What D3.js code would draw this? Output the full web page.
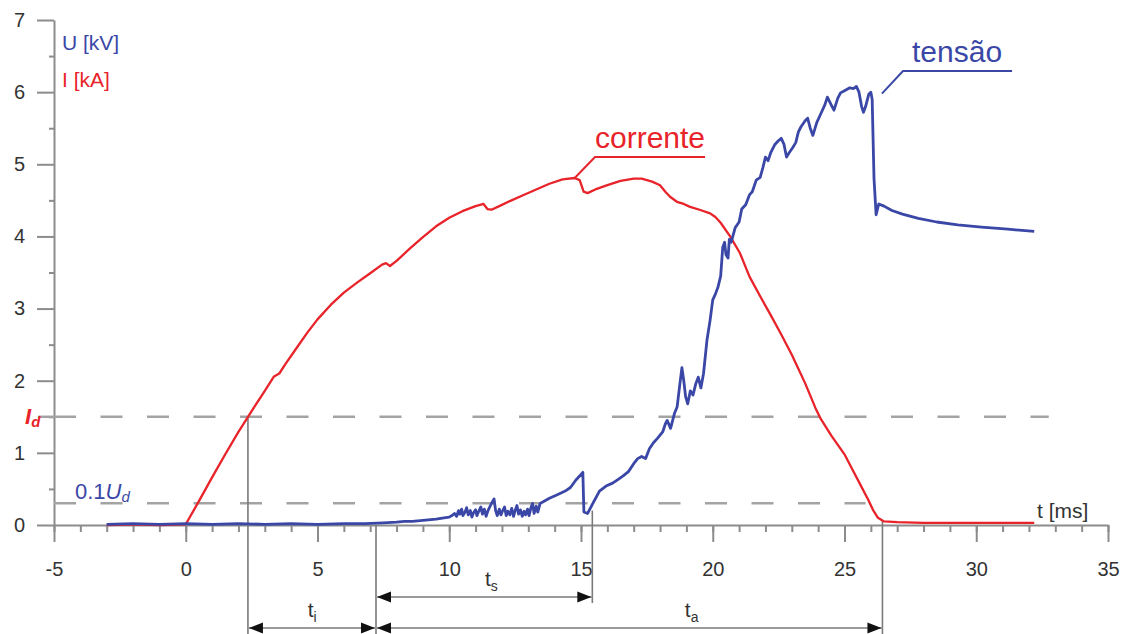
<!DOCTYPE html>
<html>
<head>
<meta charset="utf-8">
<script src="https://cdn.jsdelivr.net/npm/d3@7"></script>
<style>
  body { margin: 0; background: #fff; }
  svg { display: block; }
  text { font-family: "Liberation Sans", Arial, sans-serif; }
</style>
</head>
<body>
<svg id="chart" width="1130" height="634"></svg>
<script>
// ---- data ---------------------------------------------------------------
// time axis ticks [ms]
const xTicks = [-5, 0, 5, 10, 15, 20, 25, 30, 35];
const xMinorTicks = d3.range(-5, 36, 1);
// value axis ticks (kV / kA)
const yTicks = [0, 1, 2, 3, 4, 5, 6, 7];
const yMinorTicks = [0.5, 1.5, 2.5, 3.5, 4.5, 5.5, 6.5];

// arc current I [kA] versus t [ms]
const currentSamples = [
  [-3, 0.0], [-2, 0.01], [-1, 0.0], [0, 0.01], [0.5, 0.33], [1, 0.66], [1.5, 0.98],
  [2, 1.29], [2.5, 1.58], [3, 1.86], [3.35, 2.06], [3.55, 2.1], [3.8, 2.24], [4.2, 2.45],
  [4.6, 2.66], [5, 2.85], [5.5, 3.05], [6, 3.22], [6.5, 3.36], [7, 3.49], [7.45, 3.61],
  [7.6, 3.63], [7.75, 3.59], [8, 3.66], [8.5, 3.83], [9, 3.99], [9.5, 4.14], [10, 4.26],
  [10.5, 4.35], [11, 4.42], [11.3, 4.45], [11.45, 4.38], [11.6, 4.37], [11.9, 4.42],
  [12.3, 4.49], [12.8, 4.57], [13.3, 4.65], [13.8, 4.73], [14.3, 4.79], [14.76, 4.81],
  [14.95, 4.78], [15.1, 4.62], [15.25, 4.6], [15.6, 4.66], [16.0, 4.71], [16.5, 4.77],
  [17.0, 4.8], [17.3, 4.8], [17.7, 4.76], [18.0, 4.71], [18.2, 4.62], [18.38, 4.55],
  [18.64, 4.48], [18.9, 4.45], [19.14, 4.41], [19.5, 4.37], [19.9, 4.32], [20.1, 4.27],
  [20.3, 4.19], [20.66, 4.0], [21.03, 3.77], [21.4, 3.44], [21.8, 3.17], [22.2, 2.91],
  [22.6, 2.64], [23.0, 2.36], [23.5, 1.97], [23.9, 1.62], [24.1, 1.47], [24.5, 1.24],
  [25.0, 0.98], [25.3, 0.77], [25.6, 0.56], [25.9, 0.35], [26.08, 0.21], [26.27, 0.1],
  [26.5, 0.05], [27, 0.04], [28, 0.03], [29, 0.03], [30, 0.03], [31, 0.03], [32.2, 0.03]
];

// arc voltage U [kV] versus t [ms]
const voltageSamples = [
  [-3.0, 0.01], [-2.0, 0.02], [-1.0, 0.01], [0, 0.02], [1, 0.01], [2, 0.02], [3, 0.01],
  [4, 0.02], [5, 0.01], [6, 0.02], [6.8, 0.02], [7.5, 0.03], [8.0, 0.04], [8.3, 0.05],
  [8.6, 0.05], [8.9, 0.06], [9.2, 0.07], [9.5, 0.08], [9.8, 0.1], [10.0, 0.11],
  [10.1, 0.13], [10.2, 0.16], [10.28, 0.12], [10.35, 0.2], [10.4, 0.15], [10.47, 0.22],
  [10.52, 0.13], [10.6, 0.18], [10.66, 0.24], [10.72, 0.14], [10.8, 0.2], [10.86, 0.11],
  [10.92, 0.17], [11.0, 0.21], [11.05, 0.13], [11.12, 0.19], [11.2, 0.25], [11.26, 0.15],
  [11.33, 0.22], [11.4, 0.12], [11.47, 0.2], [11.55, 0.26], [11.62, 0.31], [11.7, 0.36],
  [11.76, 0.2], [11.82, 0.13], [11.9, 0.22], [11.96, 0.14], [12.03, 0.2], [12.1, 0.25],
  [12.16, 0.13], [12.23, 0.19], [12.3, 0.14], [12.37, 0.23], [12.44, 0.12], [12.5, 0.2],
  [12.57, 0.27], [12.63, 0.15], [12.7, 0.21], [12.77, 0.12], [12.84, 0.19], [12.9, 0.14],
  [12.97, 0.22], [13.03, 0.13], [13.1, 0.24], [13.16, 0.3], [13.22, 0.16], [13.3, 0.26],
  [13.36, 0.18], [13.45, 0.3], [13.55, 0.32], [13.8, 0.37], [14.1, 0.42], [14.4, 0.47],
  [14.6, 0.52], [14.8, 0.62], [15.0, 0.7], [15.07, 0.73], [15.11, 0.18], [15.25, 0.16],
  [15.45, 0.3], [15.7, 0.47], [15.95, 0.54], [16.2, 0.58], [16.4, 0.63], [16.6, 0.68],
  [16.8, 0.74], [17.0, 0.85], [17.15, 0.92], [17.3, 0.95], [17.45, 0.92], [17.6, 1.06],
  [17.75, 1.14], [17.9, 1.2], [18.1, 1.29], [18.2, 1.4], [18.27, 1.45], [18.4, 1.34],
  [18.55, 1.55], [18.65, 1.64], [18.75, 1.95], [18.83, 2.18], [18.9, 2.0], [18.97, 1.78],
  [19.05, 1.68], [19.15, 1.86], [19.25, 1.8], [19.35, 1.95], [19.45, 2.05], [19.55, 1.9],
  [19.65, 2.1], [19.78, 2.56], [19.9, 2.84], [20.0, 3.12], [20.1, 3.2], [20.2, 3.3],
  [20.3, 3.45], [20.38, 3.85], [20.45, 3.92], [20.5, 3.75], [20.58, 3.7], [20.63, 3.96],
  [20.7, 3.92], [20.85, 4.12], [21.0, 4.2], [21.1, 4.38], [21.25, 4.44], [21.4, 4.58],
  [21.5, 4.62], [21.65, 4.78], [21.8, 4.82], [21.9, 4.95], [22.0, 5.1], [22.1, 5.05],
  [22.2, 5.16], [22.35, 5.27], [22.5, 5.33], [22.6, 5.36], [22.7, 5.28], [22.8, 5.1],
  [22.9, 5.16], [23.05, 5.24], [23.15, 5.3], [23.25, 5.45], [23.35, 5.52], [23.5, 5.6],
  [23.6, 5.64], [23.7, 5.5], [23.8, 5.4], [23.95, 5.58], [24.1, 5.7], [24.25, 5.82],
  [24.35, 5.93], [24.5, 5.82], [24.6, 5.75], [24.75, 5.92], [24.85, 5.99], [25.0, 6.02],
  [25.2, 6.06], [25.35, 6.05], [25.45, 6.08], [25.55, 6.0], [25.65, 5.8], [25.72, 5.72],
  [25.8, 5.8], [25.92, 5.97], [26.0, 6.0], [26.05, 5.9], [26.12, 4.8], [26.2, 4.3],
  [26.3, 4.45], [26.5, 4.42], [26.8, 4.36], [27.2, 4.31], [27.8, 4.25], [28.5, 4.2],
  [29.3, 4.16], [30.2, 4.13], [31.2, 4.1], [32.2, 4.07]
];

// reference levels
const currentLevelId = 1.5;   // I_d [kA]
const voltageLevel = 0.3;     // 0.1 U_d [kV]

// characteristic instants [ms]
const tCurrentAtId = 2.36;
const tVoltageRise = 7.22;
const tVoltageAtLevel = 15.43;
const tCurrentZero = 26.44;

// ---- drawing ------------------------------------------------------------
const svg = d3.select("#chart");
const x = d3.scaleLinear().domain([-5, 35]).range([54, 1108]);
const y = d3.scaleLinear().domain([0, 7]).range([525, 20]);

const axisColor = "#8c8c8c";
const blue = "#3a47a6";
const red = "#e8232a";
const inkGrey = "#333";
const plainNumber = d => String(d);

function styleAxis(g) {
  g.selectAll("line, path").attr("stroke", axisColor).attr("stroke-width", 2);
  g.selectAll("text").attr("font-size", 20).attr("fill", inkGrey)
    .attr("font-family", "'Liberation Sans', Arial, sans-serif");
}

// x axis: minor then major ticks
svg.append("g").attr("transform", `translate(0,${y(0)})`)
  .call(d3.axisBottom(x).tickValues(xMinorTicks).tickSize(7).tickFormat(""))
  .call(g => g.select(".domain").remove())
  .call(styleAxis);
svg.append("g").attr("transform", `translate(0,${y(0)})`)
  .call(d3.axisBottom(x).tickValues(xTicks).tickSize(17).tickSizeOuter(0)
    .tickPadding(20).tickFormat(plainNumber))
  .call(styleAxis);

// y axis: minor then major ticks
svg.append("g").attr("transform", `translate(${x(-5)},0)`)
  .call(d3.axisLeft(y).tickValues(yMinorTicks).tickSize(5).tickFormat(""))
  .call(g => g.select(".domain").remove())
  .call(styleAxis);
svg.append("g").attr("transform", `translate(${x(-5)},0)`)
  .call(d3.axisLeft(y).tickValues(yTicks).tickSize(17).tickSizeOuter(0)
    .tickPadding(12).tickFormat(plainNumber))
  .call(styleAxis);

// dashed reference levels
const dash = { stroke: "#a3a3a3", width: 2.5, array: "22 24.5" };
svg.append("line")
  .attr("x1", x(-5) - 16).attr("x2", x(-5))
  .attr("y1", y(currentLevelId)).attr("y2", y(currentLevelId))
  .attr("stroke", dash.stroke).attr("stroke-width", dash.width);
svg.append("line")
  .attr("x1", x(-5)).attr("x2", x(32.75))
  .attr("y1", y(currentLevelId)).attr("y2", y(currentLevelId))
  .attr("stroke", dash.stroke).attr("stroke-width", dash.width)
  .attr("stroke-dasharray", dash.array);
svg.append("line")
  .attr("x1", x(-5)).attr("x2", x(25.8))
  .attr("y1", y(voltageLevel)).attr("y2", y(voltageLevel))
  .attr("stroke", dash.stroke).attr("stroke-width", dash.width)
  .attr("stroke-dasharray", dash.array);

// vertical markers of the characteristic instants
const markerColor = "#7a7a7a";
const markers = [
  { t: tCurrentAtId, v0: currentLevelId, yEnd: 634 },
  { t: tVoltageRise, v0: 0, yEnd: 634 },
  { t: tVoltageAtLevel, v0: 0.2, yEnd: 603 },
  { t: tCurrentZero, v0: 0.07, yEnd: 634 }
];
svg.append("g").selectAll("line").data(markers).join("line")
  .attr("x1", d => x(d.t)).attr("x2", d => x(d.t))
  .attr("y1", d => y(d.v0)).attr("y2", d => d.yEnd)
  .attr("stroke", markerColor).attr("stroke-width", 1.6);

// dimension arrows
function arrowHead(g, xTip, yy, dir) {
  const len = 14, half = 5.5;
  g.append("path")
    .attr("d", `M${xTip},${yy} L${xTip - dir * len},${yy - half} L${xTip - dir * len},${yy + half} Z`)
    .attr("fill", "#111");
}
function dimension(t0, t1, yy, label, sub, tLabel, yLabel) {
  const g = svg.append("g");
  g.append("line").attr("x1", x(t0)).attr("x2", x(t1)).attr("y1", yy).attr("y2", yy)
    .attr("stroke", "#9a9a9a").attr("stroke-width", 2);
  arrowHead(g, x(t0) + 1, yy, -1);
  arrowHead(g, x(t1) - 1, yy, 1);
  const txt = g.append("text").attr("x", x(tLabel)).attr("y", yLabel)
    .attr("text-anchor", "middle").attr("fill", inkGrey).attr("font-size", 21);
  txt.append("tspan").text(label);
  txt.append("tspan").attr("font-size", 14).attr("dy", 5).text(sub);
}
dimension(tVoltageRise, tVoltageAtLevel, 597, "t", "s", 11.6, 586);
dimension(tCurrentAtId, tVoltageRise, 628, "t", "i", 4.8, 617);
dimension(tVoltageRise, tCurrentZero, 628, "t", "a", 19.2, 617);

// curves
const line = d3.line().x(d => x(d[0])).y(d => y(d[1]));
svg.append("path").datum(currentSamples)
  .attr("d", line).attr("fill", "none")
  .attr("stroke", red).attr("stroke-width", 2.3).attr("stroke-linejoin", "round");
svg.append("path").datum(voltageSamples)
  .attr("d", line).attr("fill", "none")
  .attr("stroke", blue).attr("stroke-width", 2.8).attr("stroke-linejoin", "round");

// axis titles
svg.append("text").attr("x", 62).attr("y", 50).attr("fill", blue)
  .attr("font-size", 21).text("U [kV]");
svg.append("text").attr("x", 62).attr("y", 87).attr("fill", red)
  .attr("font-size", 21).text("I [kA]");
svg.append("text").attr("x", 1037).attr("y", 518).attr("fill", inkGrey)
  .attr("font-size", 21).text("t [ms]");

// level labels
const idLabel = svg.append("text").attr("x", 25).attr("y", 424)
  .attr("fill", red).attr("font-size", 22).attr("font-style", "italic").attr("font-weight", "bold");
idLabel.append("tspan").text("I");
idLabel.append("tspan").attr("font-size", 15).attr("dy", 3).text("d");

const udLabel = svg.append("text").attr("x", 75).attr("y", 499)
  .attr("fill", blue).attr("font-size", 22);
udLabel.append("tspan").text("0.1");
udLabel.append("tspan").attr("font-style", "italic").text("U");
udLabel.append("tspan").attr("font-style", "italic").attr("font-size", 15).attr("dy", 3).text("d");

// series callouts with leader lines
function callout(label, color, xText, yBase, xKnee, extraRight, tPoint, vPoint) {
  const g = svg.append("g");
  const txt = g.append("text").attr("x", xText).attr("y", yBase)
    .attr("fill", color).attr("font-size", 30).text(label);
  const w = txt.node().getComputedTextLength();
  const yLine = yBase + 9;
  g.append("path")
    .attr("d", `M${x(tPoint)},${y(vPoint)} L${xKnee},${yLine} L${xText + w + extraRight},${yLine}`)
    .attr("fill", "none").attr("stroke", color).attr("stroke-width", 2);
}
callout("corrente", red, 595, 148, 595, 0, 14.76, 4.81);
callout("tensão", blue, 912, 62, 903, 10, 26.42, 5.98);
</script>
</body>
</html>
